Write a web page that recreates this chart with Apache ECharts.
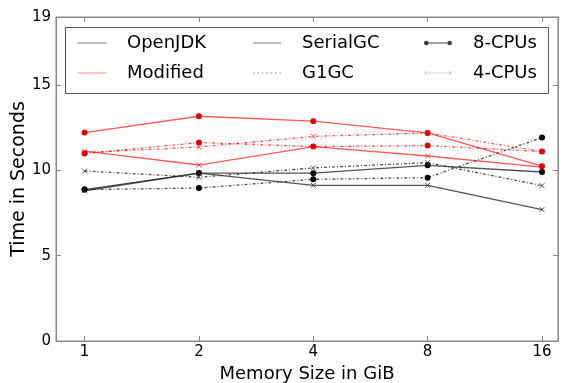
<!DOCTYPE html>
<html>
<head>
<meta charset="utf-8">
<script src="https://cdn.jsdelivr.net/npm/echarts@6/dist/echarts.min.js"></script>
<style>
  html, body { margin: 0; padding: 0; background: #fff; }
  #chart { width: 566px; height: 383px; }
</style>
</head>
<body>
<div id="chart"></div>
<script>
// memory sizes (GiB) -> plotted on a log2 position
const memSizes = [1, 2, 4, 8, 16];
const yTicks = [0, 5, 10, 15, 19];

// OpenJDK (black)
const openSerial8 = [8.88, 9.85, 9.84, 10.30, 9.91];
const openSerial4 = [8.81, 9.85, 9.13, 9.13, 7.71];
const openG1_8 = [8.88, 8.97, 9.48, 9.58, 11.93];
const openG1_4 = [9.97, 9.60, 10.15, 10.46, 9.11];

// Modified (red)
const modSerial8 = [12.22, 13.18, 12.89, 12.20, 10.25];
const modSerial4 = [11.14, 10.32, 11.40, 10.85, 10.20];
const modG1_8 = [10.99, 11.64, 11.40, 11.46, 11.11];
const modG1_4 = [11.05, 11.38, 12.00, 12.20, 11.11];

const FONT = 'DejaVu Sans';
const X_SYMBOL = 'path://M0,0L10,10M10,0L0,10';
const DASH = [3, 2, 1, 2];

const toPoints = vals => vals.map((v, i) => [Math.log2(memSizes[i]), v]);

function makeSeries(name, vals, color, markColor, dotted, cpu8) {
  return {
    name: name,
    type: 'line',
    data: toPoints(vals),
    symbol: cpu8 ? 'circle' : X_SYMBOL,
    symbolSize: cpu8 ? 6 : 5,
    showAllSymbol: true,
    lineStyle: { color: color, width: 1.3, type: dotted ? DASH : 'solid' },
    itemStyle: cpu8
      ? { color: markColor, borderWidth: 0 }
      : { color: 'transparent', borderColor: color, borderWidth: 1 },
    emphasis: { disabled: true },
    silent: true
  };
}

const BLACK = 'rgba(40,40,40,0.8)';
const RED = 'rgba(255,0,0,0.65)';

const series = [
  makeSeries('os8', openSerial8, BLACK, '#000', false, true),
  makeSeries('os4', openSerial4, BLACK, '#000', false, false),
  makeSeries('og8', openG1_8, BLACK, '#000', true, true),
  makeSeries('og4', openG1_4, BLACK, '#000', true, false),
  makeSeries('ms8', modSerial8, RED, '#e00000', false, true),
  makeSeries('ms4', modSerial4, RED, '#e00000', false, false),
  makeSeries('mg8', modG1_8, RED, '#e00000', true, true),
  makeSeries('mg4', modG1_4, RED, '#e00000', true, false)
];

// legend-only entries
const legendNames = ['OpenJDK', 'Modified', 'SerialGC', 'G1GC', '8-CPUs', '4-CPUs'];
const legendColors = ['#555', '#ff6666', '#555', '#777', '#111', '#888'];
legendNames.forEach((n, i) => series.push({
  name: n, type: 'scatter', data: [],
  itemStyle: { color: legendColors[i], borderWidth: 0 }
}));

const ICON_LINE = 'path://M0,0h28v1h-28z';
const ICON_DOT = 'path://M0,0h1.5v1h-1.5z M4,0h1.5v1h-1.5z M8,0h1.5v1h-1.5z M12,0h1.5v1h-1.5z M16,0h1.5v1h-1.5z M20,0h1.5v1h-1.5z M24,0h1.5v1h-1.5z';
const ICON_8 = 'path://M0,2.5a2.5,2.5 0 1,0 5,0a2.5,2.5 0 1,0 -5,0z M5,2h20v1h-20z M25,2.5a2.5,2.5 0 1,0 5,0a2.5,2.5 0 1,0 -5,0z';
const ICON_4 = 'path://M0,0.4L0.4,0L4,3.6L3.6,4z M3.6,0L4,0.4L0.4,4L0,3.6z M4,1.75h22v0.5h-22z M26,0.4L26.4,0L30,3.6L29.6,4z M29.6,0L30,0.4L26.4,4L26,3.6z';

const legendText = { fontFamily: FONT, fontSize: 18, color: '#000', padding: [0, 0, 0, 16], lineHeight: 18 };

function legendCol(left, items) {
  return {
    orient: 'vertical',
    left: left,
    top: 34,
    padding: 0,
    itemGap: 12,
    itemWidth: 28,
    itemHeight: 5,
    selectedMode: false,
    textStyle: legendText,
    data: items
  };
}

const iconStyle = color => ({ color: color, borderWidth: 0 });

const chart = echarts.init(document.getElementById('chart'), null, { renderer: 'canvas' });

const tickFmt = v => String(Math.round(Math.pow(2, v)));

chart.setOption({
  animation: false,
  backgroundColor: '#fff',
  grid: {
    left: 56, right: 8, top: 17, bottom: 42,
    show: true, borderColor: '#888', borderWidth: 1,
    outerBoundsMode: 'none'
  },
  legend: [
    legendCol(78, [
      { name: 'OpenJDK', icon: ICON_LINE, itemStyle: iconStyle(legendColors[0]) },
      { name: 'Modified', icon: ICON_LINE, itemStyle: iconStyle(legendColors[1]) }
    ]),
    legendCol(253, [
      { name: 'SerialGC', icon: ICON_LINE, itemStyle: iconStyle(legendColors[2]) },
      { name: 'G1GC', icon: ICON_DOT, itemStyle: iconStyle(legendColors[3]) }
    ]),
    legendCol(424, [
      { name: '8-CPUs', icon: ICON_8, itemStyle: iconStyle(legendColors[4]) },
      { name: '4-CPUs', icon: ICON_4, itemStyle: iconStyle(legendColors[5]) }
    ])
  ],
  graphic: [{
    type: 'rect',
    shape: { x: 65.5, y: 27.5, width: 483, height: 66 },
    style: { fill: 'none', stroke: '#555', lineWidth: 1 },
    z: 100
  }],
  xAxis: [{
    type: 'value',
    min: -0.25,
    max: 4.14,
    name: 'Memory Size in GiB',
    nameLocation: 'middle',
    nameGap: 24,
    nameMoveOverlap: false,
    nameTextStyle: { fontFamily: FONT, fontSize: 18, color: '#000' },
    axisLine: { onZero: false, lineStyle: { color: '#888' } },
    axisTick: { inside: true, length: 5, customValues: [0, 1, 2, 3, 4], lineStyle: { color: '#888' } },
    axisLabel: { customValues: [0, 1, 2, 3, 4], formatter: tickFmt, fontFamily: FONT, fontSize: 15, color: '#000', margin: 4 },
    splitLine: { show: false }
  }, {
    type: 'value',
    position: 'top',
    min: -0.25,
    max: 4.14,
    axisLine: { onZero: false, lineStyle: { color: '#888' } },
    axisTick: { inside: true, length: 5, customValues: [0, 1, 2, 3, 4], lineStyle: { color: '#888' } },
    axisLabel: { show: false },
    splitLine: { show: false }
  }],
  yAxis: [{
    type: 'value',
    min: 0,
    max: 19,
    name: 'Time in Seconds',
    nameLocation: 'middle',
    nameGap: 27,
    nameMoveOverlap: false,
    nameTextStyle: { fontFamily: FONT, fontSize: 19, color: '#000' },
    axisLine: { show: true, onZero: false, lineStyle: { color: '#888' } },
    axisTick: { show: true, inside: true, length: 5, customValues: yTicks, lineStyle: { color: '#888' } },
    axisLabel: { customValues: yTicks, fontFamily: FONT, fontSize: 15, color: '#000', margin: 5 },
    splitLine: { show: false }
  }, {
    type: 'value',
    position: 'right',
    min: 0,
    max: 19,
    axisLine: { show: true, onZero: false, lineStyle: { color: '#888' } },
    axisTick: { show: true, inside: true, length: 5, customValues: yTicks, lineStyle: { color: '#888' } },
    axisLabel: { show: false },
    splitLine: { show: false }
  }],
  series: series
});
</script>
</body>
</html>
